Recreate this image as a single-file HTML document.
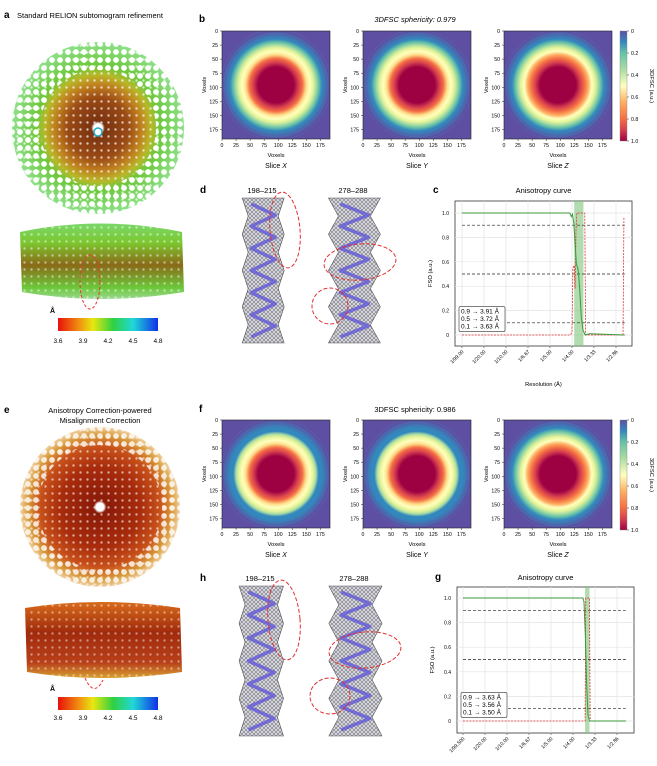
<!DOCTYPE html>
<html><head><meta charset="utf-8">
<style>
body{margin:0;background:#fff;}
svg{display:block;font-family:"Liberation Sans",sans-serif;}
</style></head>
<body>
<svg id="fig" width="657" height="766" viewBox="0 0 657 766" xmlns="http://www.w3.org/2000/svg">
<defs>
  <radialGradient id="mapA" cx="50%" cy="50%" r="50%">
    <stop offset="0" stop-color="#fff"/><stop offset="0.05" stop-color="#fff"/>
    <stop offset="0.08" stop-color="#7a3210"/><stop offset="0.35" stop-color="#9a4a14"/>
    <stop offset="0.5" stop-color="#c08020"/><stop offset="0.62" stop-color="#b8b828"/>
    <stop offset="0.72" stop-color="#6cc83a"/><stop offset="1" stop-color="#8ee08a"/>
  </radialGradient>
  <radialGradient id="mapE" cx="50%" cy="50%" r="50%">
    <stop offset="0" stop-color="#fff"/><stop offset="0.05" stop-color="#fff"/>
    <stop offset="0.08" stop-color="#8a1a08"/><stop offset="0.5" stop-color="#a82c0c"/>
    <stop offset="0.75" stop-color="#c8501a"/><stop offset="0.9" stop-color="#d89a3a"/><stop offset="1" stop-color="#f0d0a0"/>
  </radialGradient>
  <linearGradient id="sideA" x1="0" y1="0" x2="0" y2="1">
    <stop offset="0" stop-color="#7ad86a"/><stop offset="0.25" stop-color="#7cc830"/><stop offset="0.55" stop-color="#8a6a18"/><stop offset="0.85" stop-color="#6cc83a"/><stop offset="1" stop-color="#9ad890"/>
  </linearGradient>
  <linearGradient id="sideE" x1="0" y1="0" x2="0" y2="1">
    <stop offset="0" stop-color="#d86a1a"/><stop offset="0.4" stop-color="#a02a0c"/><stop offset="0.8" stop-color="#b8401a"/><stop offset="1" stop-color="#d8a030"/>
  </linearGradient>
  <linearGradient id="locres" x1="0" y1="0" x2="1" y2="0">
    <stop offset="0" stop-color="#e8100c"/><stop offset="0.2" stop-color="#f08a10"/><stop offset="0.35" stop-color="#e8e810"/>
    <stop offset="0.55" stop-color="#30d040"/><stop offset="0.75" stop-color="#20d8d8"/><stop offset="1" stop-color="#1030e8"/>
  </linearGradient>
  <linearGradient id="cbar" x1="0" y1="0" x2="0" y2="1">
    <stop offset="0" stop-color="#5e4fa2"/><stop offset="0.1" stop-color="#3288bd"/><stop offset="0.2" stop-color="#66c2a5"/>
    <stop offset="0.35" stop-color="#abdda4"/><stop offset="0.5" stop-color="#ffffbf"/><stop offset="0.65" stop-color="#fdae61"/>
    <stop offset="0.8" stop-color="#f46d43"/><stop offset="0.9" stop-color="#d53e4f"/><stop offset="1" stop-color="#9e0142"/>
  </linearGradient>
  <pattern id="mesh" width="4" height="4" patternUnits="userSpaceOnUse">
    <path d="M0 0L4 4M4 0L0 4" stroke="#444" stroke-width="0.4"/>
  </pattern>
  <pattern id="dots" width="7" height="7" patternUnits="userSpaceOnUse">
    <circle cx="3.5" cy="3.5" r="1.2" fill="#fff"/>
  </pattern>
  <pattern id="bigdots" width="8" height="8" patternUnits="userSpaceOnUse">
    <circle cx="4" cy="4" r="2.9" fill="#fff"/>
  </pattern>
  <mask id="ringMaskA"><circle cx="98" cy="128" r="86" fill="#fff"/><circle cx="98" cy="128" r="58" fill="#000"/></mask>
  <mask id="ringMaskE"><circle cx="100" cy="507" r="80" fill="#fff"/><circle cx="100" cy="507" r="62" fill="#000"/></mask>
</defs>

<!-- Panel a -->
<text x="4" y="18" font-size="10" font-weight="bold">a</text>
<text x="17" y="18" font-size="7.5">Standard RELION subtomogram refinement</text>
<g>
  <circle cx="98" cy="128" r="86" fill="url(#mapA)"/>
  <circle cx="98" cy="128" r="86" fill="url(#dots)" opacity="0.7"/>
  <rect x="0" y="30" width="200" height="200" fill="url(#bigdots)" mask="url(#ringMaskA)"/>
  <circle cx="98" cy="132" r="4" fill="#fff" stroke="#2ac" stroke-width="1.5"/>
</g>
<g>
  <path d="M20 232 Q100 215 182 232 L184 292 Q100 306 22 292 Z" fill="url(#sideA)"/>
  <path d="M20 232 Q100 215 182 232 L184 292 Q100 306 22 292 Z" fill="url(#dots)" opacity="0.5"/>
  <ellipse cx="90" cy="282" rx="10" ry="27" fill="none" stroke="#e33" stroke-dasharray="3,2"/>
</g>
<g>
  <text x="50" y="313" font-size="7" font-weight="bold">Å</text>
  <rect x="58" y="318" width="100" height="13" fill="url(#locres)"/>
  <text x="58" y="343" font-size="6.5" text-anchor="middle">3.6</text>
  <text x="83" y="343" font-size="6.5" text-anchor="middle">3.9</text>
  <text x="108" y="343" font-size="6.5" text-anchor="middle">4.2</text>
  <text x="133" y="343" font-size="6.5" text-anchor="middle">4.5</text>
  <text x="158" y="343" font-size="6.5" text-anchor="middle">4.8</text>
</g>

<!-- Panel e -->
<text x="4" y="413" font-size="10" font-weight="bold">e</text>
<text x="100" y="413" font-size="7.5" text-anchor="middle">Anisotropy Correction-powered</text>
<text x="100" y="423" font-size="7.5" text-anchor="middle">Misalignment Correction</text>
<g>
  <circle cx="100" cy="507" r="80" fill="url(#mapE)"/>
  <circle cx="100" cy="507" r="80" fill="url(#dots)" opacity="0.6"/>
  <rect x="0" y="420" width="200" height="180" fill="url(#bigdots)" mask="url(#ringMaskE)" opacity="0.8"/>
</g>
<g>
  <path d="M25 608 Q100 596 180 608 L182 672 Q100 684 27 672 Z" fill="url(#sideE)"/>
  <path d="M25 608 Q100 596 180 608 L182 672 Q100 684 27 672 Z" fill="url(#dots)" opacity="0.45"/>
  <path d="M85 678 Q94 698 103 680" fill="none" stroke="#e33" stroke-dasharray="3,2"/>
</g>
<g>
  <text x="50" y="691" font-size="7" font-weight="bold">Å</text>
  <rect x="58" y="697" width="100" height="13" fill="url(#locres)"/>
  <text x="58" y="720" font-size="6.5" text-anchor="middle">3.6</text>
  <text x="83" y="720" font-size="6.5" text-anchor="middle">3.9</text>
  <text x="108" y="720" font-size="6.5" text-anchor="middle">4.2</text>
  <text x="133" y="720" font-size="6.5" text-anchor="middle">4.5</text>
  <text x="158" y="720" font-size="6.5" text-anchor="middle">4.8</text>
</g>

<text x="199" y="22" font-size="10" font-weight="bold">b</text>
<text x="415" y="22" font-size="7.5" font-style="italic" text-anchor="middle">3DFSC sphericity: 0.979</text>
<text x="199" y="412" font-size="10" font-weight="bold">f</text>
<text x="415" y="412" font-size="7.5" text-anchor="middle">3DFSC sphericity: 0.986</text>
<text x="200" y="193" font-size="10" font-weight="bold">d</text>
<text x="200" y="581" font-size="10" font-weight="bold">h</text>

<g id="heatmaps"></g>
<g id="helices"></g>
<g id="chartC"></g>
<g id="chartG"></g>
</svg>

<script>
const NS = "http://www.w3.org/2000/svg";
// Heatmap radial FSC profiles (radius in voxels -> FSC)
const radiiVox = [0, 32, 40, 47, 54, 60, 66, 71, 76, 82, 96];
const profileBX = [1.0, 0.95, 0.85, 0.75, 0.6, 0.5, 0.4, 0.28, 0.15, 0.05, 0.0];
const profileBY = [1.0, 0.95, 0.85, 0.75, 0.6, 0.5, 0.4, 0.28, 0.15, 0.05, 0.0];
const profileBZ = [1.0, 0.97, 0.9, 0.8, 0.65, 0.5, 0.4, 0.3, 0.15, 0.05, 0.0];
const profileFX = [1.0, 0.96, 0.88, 0.78, 0.62, 0.5, 0.4, 0.28, 0.14, 0.05, 0.0];
const profileFY = [1.0, 0.96, 0.88, 0.78, 0.62, 0.5, 0.4, 0.28, 0.14, 0.05, 0.0];
const profileFZ = [1.0, 0.97, 0.9, 0.8, 0.66, 0.52, 0.42, 0.3, 0.15, 0.05, 0.0];
const voxTicks = [0, 25, 50, 75, 100, 125, 150, 175];
const cbarTicks = ["0", "0.2", "0.4", "0.6", "0.8", "1.0"];
const sliceNames = ["X", "Y", "Z"];

const spectral = ["#5e4fa2","#3288bd","#66c2a5","#abdda4","#e6f598","#ffffbf","#fee08b","#fdae61","#f46d43","#d53e4f","#9e0142"];
function cmap(v){ const i = Math.max(0, Math.min(10, Math.round(v*10))); return spectral[i]; }
function mk(tag, attrs, parent){ const e = document.createElementNS(NS, tag); for (const k in attrs) e.setAttribute(k, attrs[k]); if(parent) parent.appendChild(e); return e; }

const hm = document.getElementById("heatmaps");
function drawHeatmap(x0, y0, prof, idx, gid){
  const S = 108, vox = 192, sc = S / vox;
  const g = mk("g", {}, hm);
  
  
  const clipId = "clip" + gid + idx;
  const cp = mk("clipPath", {id: clipId}, g);
  mk("rect", {x: x0, y: y0, width: S, height: S}, cp);
  const inner = mk("g", {"clip-path": "url(#" + clipId + ")"}, g);
  mk("rect", {x: x0, y: y0, width: S, height: S, fill: spectral[0]}, inner);
  const cx = x0 + 96*sc, cy = y0 + 96*sc;
  const gradId = "rg" + gid + idx;
  const rmax = radiiVox[radiiVox.length-1];
  const rg = mk("radialGradient", {id: gradId, gradientUnits: "userSpaceOnUse", cx: cx, cy: cy, r: rmax*sc}, inner);
  for (let i = 0; i < radiiVox.length; i++){
    mk("stop", {offset: radiiVox[i]/rmax, "stop-color": cmap(prof[i])}, rg);
  }
  mk("circle", {cx: cx, cy: cy, r: rmax*sc, fill: "url(#" + gradId + ")"}, inner);
  for (let r = 80; r < 100; r += 6) mk("circle", {cx: cx, cy: cy, r: r*sc, fill: "none", stroke: "#3a8ac0", "stroke-width": 0.5, opacity: 0.5}, inner);
  mk("rect", {x: x0, y: y0, width: S, height: S, fill: "none", stroke: "#222", "stroke-width": 0.6}, g);
  voxTicks.forEach(t => {
    const p = t*sc;
    const ty = mk("text", {x: x0-4, y: y0+p+2, "font-size": 5.2, "text-anchor": "end"}, g); ty.textContent = t;
    mk("line", {x1: x0-2, x2: x0, y1: y0+p, y2: y0+p, stroke: "#222", "stroke-width": 0.5}, g);
    const tx = mk("text", {x: x0+p, y: y0+S+8, "font-size": 5.2, "text-anchor": "middle"}, g); tx.textContent = t;
    mk("line", {x1: x0+p, x2: x0+p, y1: y0+S, y2: y0+S+2, stroke: "#222", "stroke-width": 0.5}, g);
  });
  const yl = mk("text", {x: 0, y: 0, "font-size": 5.5, "text-anchor": "middle", transform: "translate(" + (x0-16) + "," + (y0+S/2) + ") rotate(-90)"}, g); yl.textContent = "Voxels";
  const xl = mk("text", {x: x0+S/2, y: y0+S+18, "font-size": 5.8, "text-anchor": "middle"}, g); xl.textContent = "Voxels";
  const sl = mk("text", {x: x0+S/2, y: y0+S+29, "font-size": 7, "text-anchor": "middle"}, g); sl.innerHTML = 'Slice <tspan font-style="italic">' + sliceNames[idx] + '</tspan>';
}
function drawCbar(x0, y0, H, gid){
  const g = mk("g", {}, hm);
  
  
  mk("rect", {x: x0, y: y0, width: 7, height: H, fill: "url(#cbar)", stroke: "#888", "stroke-width": 0.4}, g);
  cbarTicks.forEach((t, i) => {
    const yy = y0 + i*H/(cbarTicks.length-1);
    const tt = mk("text", {x: x0+11, y: yy+2, "font-size": 5.2}, g); tt.textContent = t;
    mk("line", {x1: x0+7, x2: x0+9, y1: yy, y2: yy, stroke: "#222", "stroke-width": 0.5}, g);
  });
  const lab = mk("text", {x: 0, y: 0, "font-size": 5.8, "text-anchor": "middle", transform: "translate(" + (x0+30) + "," + (y0+H/2) + ") rotate(90)"}, g); lab.textContent = "3DFSC (a.u.)";
}
const xsH = [222, 363, 504];
[profileBX, profileBY, profileBZ].forEach((p, i) => drawHeatmap(xsH[i], 31, p, i, "b"));
[profileFX, profileFY, profileFZ].forEach((p, i) => drawHeatmap(xsH[i], 420, p, i, "f"));
drawCbar(620, 31, 110, "b");
drawCbar(620, 420, 110, "f");

// Helices (illustrative density)
const hl = document.getElementById("helices");
function helix(x0, y0, w, h, label, name, ells, wiggle){
  const g = mk("g", {}, hl);
  
  
  const t = mk("text", {x: x0 + w/2, y: y0 - 5, "font-size": 7.5, "text-anchor": "middle"}, g); t.textContent = label;
  let d = "";
  const n = 8;
  for (let i = 0; i <= n; i++){
    const yy = y0 + i*h/n, off = (i%2 ? 1 : -1) * wiggle;
    d += (i === 0 ? "M" : "L") + (x0 + w*0.22 + off) + " " + yy;
  }
  for (let i = n; i >= 0; i--){
    const yy = y0 + i*h/n, off = (i%2 ? -1 : 1) * wiggle;
    d += "L" + (x0 + w*0.82 + off) + " " + yy;
  }
  d += "Z";
  mk("path", {d: d, fill: "#d4d4dc", stroke: "#555", "stroke-width": 0.6, "stroke-linejoin": "round"}, g);
  mk("path", {d: d, fill: "url(#mesh)"}, g);
  let b = "";
  for (let i = 0; i <= 12; i++){
    const yy = y0 + 6 + i*(h-12)/12;
    const xx = x0 + w*0.52 + (i%2 ? w*0.2 : -w*0.2);
    b += (i === 0 ? "M" : "L") + xx + " " + yy;
  }
  mk("path", {d: b, fill: "none", stroke: "#6058d8", "stroke-width": 3.5, "stroke-linejoin": "round", opacity: 0.8}, g);
  ells.forEach(e => mk("ellipse", {cx: e[0], cy: e[1], rx: e[2], ry: e[3], fill: "none", stroke: "#e03030", "stroke-width": 1, "stroke-dasharray": "4,2", transform: "rotate(" + (e[4]||0) + " " + e[0] + " " + e[1] + ")"}, g));
}
helix(232, 198, 60, 145, "198–215", "helix-198-215-top", [[285, 230, 15, 38, -5]], 3);
helix(318, 198, 70, 145, "278–288", "helix-278-288-top", [[360, 262, 36, 18, -5], [330, 306, 18, 18, 0]], 5);
helix(228, 586, 64, 150, "198–215", "helix-198-215-bottom", [[284, 620, 16, 40, -5]], 3);
helix(318, 586, 72, 150, "278–288", "helix-278-288-bottom", [[365, 650, 36, 18, -5], [330, 696, 20, 18, 0]], 5);

// ===== FSO anisotropy charts =====
const resTicksC = ["1/99.00", "1/20.00", "1/10.00", "1/6.67", "1/5.00", "1/4.00", "1/3.33", "1/2.86"];
const resTicksG = ["1/99.500", "1/20.00", "1/10.00", "1/6.67", "1/5.00", "1/4.00", "1/3.33", "1/2.86"];
const fsoTicks = [0, 0.2, 0.4, 0.6, 0.8, 1.0];
const thresholds = [0.9, 0.5, 0.1];
// x in tick-index units
const fsoC_x = [0, 4.9, 4.97, 5.02, 5.08, 5.14, 5.2, 5.26, 5.3, 5.36, 5.42, 5.5, 5.6, 5.8, 7.4];
const fsoC_y = [1.0, 1.0, 0.97, 0.99, 0.92, 0.75, 0.58, 0.55, 0.5, 0.35, 0.15, 0.04, 0.0, 0.01, 0.0];
const bimC_x = [0, 4.92, 5.0, 5.04, 5.1, 5.14, 5.18, 5.22, 5.3, 5.58, 5.62, 7.3, 7.32, 7.36];
const bimC_y = [0, 0, 0.02, 0.55, 0.57, 0.38, 0.85, 1.0, 1.0, 1.0, 0.0, 0.0, 0.0, 0.97];
const bandC = [5.1, 5.52];
const legendC = ["0.9 → 3.91 Å", "0.5 → 3.72 Å", "0.1 → 3.63 Å"];
const fsoG_x = [0, 5.45, 5.5, 5.56, 5.62, 5.68, 5.75, 5.85, 7.4];
const fsoG_y = [1.0, 1.0, 0.97, 0.7, 0.3, 0.05, 0.0, 0.0, 0.0];
const bimG_x = [0, 5.55, 5.58, 5.62, 5.75, 5.78, 7.4];
const bimG_y = [0, 0, 1.0, 1.0, 1.0, 0.0, 0.0];
const bandG = [5.55, 5.75];
const legendG = ["0.9 → 3.63 Å", "0.5 → 3.56 Å", "0.1 → 3.50 Å"];

function drawFSO(gEl, cfg){
  const {L, R, T, B, y1, y0, x0px, dxpx, ticks, fx, fy, bx, by, band, legend, letter, ly} = cfg;
  const X = v => x0px + v*dxpx;
  const Y = v => y0 + (y1 - y0)*v;
  const lt = mk("text", {x: L - 22, y: ly, "font-size": 10, "font-weight": "bold"}, gEl); lt.textContent = letter;
  const tt = mk("text", {x: (L+R)/2, y: ly, "font-size": 7.5, "text-anchor": "middle"}, gEl); tt.textContent = "Anisotropy curve";
  mk("rect", {x: L, y: T, width: R-L, height: B-T, fill: "#fff", stroke: "#333", "stroke-width": 0.8}, gEl);
  ticks.forEach((t, i) => {
    mk("line", {x1: X(i), x2: X(i), y1: T, y2: B, stroke: "#e3e3e3", "stroke-width": 0.7}, gEl);
    mk("line", {x1: X(i), x2: X(i), y1: B, y2: B+2, stroke: "#333", "stroke-width": 0.5}, gEl);
    const tl = mk("text", {x: 0, y: 0, "font-size": 5, "text-anchor": "end", transform: "translate(" + (X(i)+2) + "," + (B+6) + ") rotate(-45)"}, gEl); tl.textContent = t;
  });
  fsoTicks.forEach(v => {
    mk("line", {x1: L, x2: R, y1: Y(v), y2: Y(v), stroke: "#e3e3e3", "stroke-width": 0.7}, gEl);
    const yl = mk("text", {x: L-6, y: Y(v)+2, "font-size": 5, "text-anchor": "end"}, gEl); yl.textContent = v === 0 ? "0" : v.toFixed(1);
  });
  const yt = mk("text", {x: 0, y: 0, "font-size": 5.8, "text-anchor": "middle", transform: "translate(" + (L-23) + "," + ((T+B)/2) + ") rotate(-90)"}, gEl); yt.textContent = "FSO (a.u.)";
  const xt = mk("text", {x: (L+R)/2, y: B+40, "font-size": 5.8, "text-anchor": "middle"}, gEl); xt.textContent = "Resolution (Å)";
  const bd = mk("rect", {x: X(band[0]), y: T, width: X(band[1]) - X(band[0]), height: B-T, fill: "#7cc47c", opacity: 0.6}, gEl);
  
  
  thresholds.forEach(v => mk("line", {x1: X(0), x2: X(7.4), y1: Y(v), y2: Y(v), stroke: "#222", "stroke-width": 0.7, "stroke-dasharray": "3,2"}, gEl));
  const bp = mk("polyline", {points: bx.map((x, i) => X(x) + "," + Y(by[i])).join(" "), fill: "none", stroke: "#e03030", "stroke-width": 0.8, "stroke-dasharray": "2,1.2"}, gEl);
  
  
  const fp = mk("polyline", {points: fx.map((x, i) => X(x) + "," + Y(fy[i])).join(" "), fill: "none", stroke: "#3a9a3a", "stroke-width": 1}, gEl);
  
  
  const lg = mk("g", {}, gEl);
  
  
  mk("rect", {x: L+4, y: Y(0.2)-4, width: 46, height: 25, fill: "#fff", stroke: "#333", "stroke-width": 0.6, rx: 1.5}, lg);
  legend.forEach((s, i) => { const e = mk("text", {x: L+6, y: Y(0.2)+3 + i*7.5, "font-size": 6.5}, lg); e.textContent = s; });
}
const gC = document.getElementById("chartC");


drawFSO(gC, {L: 455, R: 632, T: 201, B: 346, y1: 213, y0: 335, x0px: 462, dxpx: 22, ticks: resTicksC, fx: fsoC_x, fy: fsoC_y, bx: bimC_x, by: bimC_y, band: bandC, legend: legendC, letter: "c", ly: 193});
const gG = document.getElementById("chartG");


drawFSO(gG, {L: 457, R: 634, T: 587, B: 733, y1: 598, y0: 721, x0px: 463, dxpx: 22, ticks: resTicksG, fx: fsoG_x, fy: fsoG_y, bx: bimG_x, by: bimG_y, band: bandG, legend: legendG, letter: "g", ly: 580});
</script>
</body></html>
